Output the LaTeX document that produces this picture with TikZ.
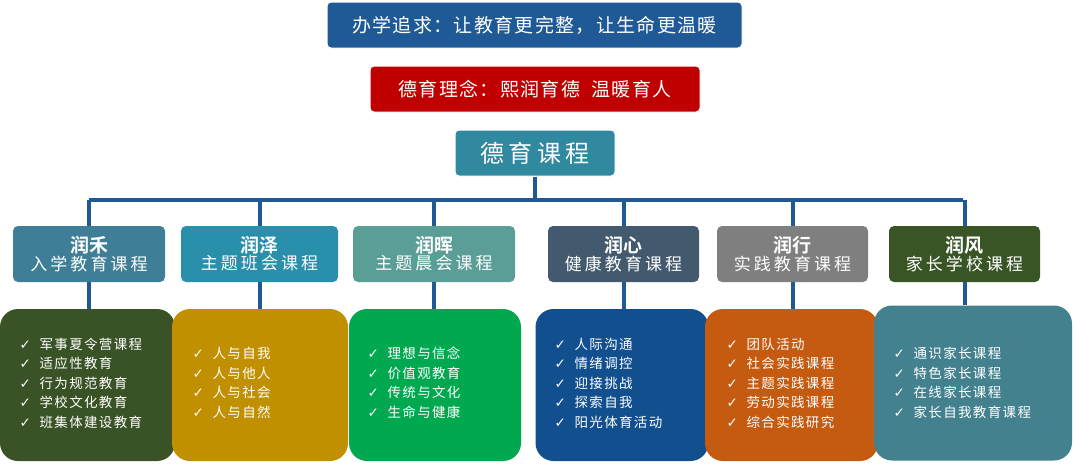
\documentclass[tikz,border=0pt]{standalone}
\usepackage{fontspec}
\setmainfont{Noto Sans CJK SC}
\newfontfamily\cjkb{Noto Sans CJK SC Bold}
\newfontfamily\cjks[LetterSpace=18]{Noto Sans CJK SC}
\newfontfamily\cjkt[LetterSpace=7]{Noto Sans CJK SC}
\newfontfamily\cjkl[LetterSpace=10]{Noto Sans CJK SC}
\newfontfamily\symf{DejaVu Sans}
\definecolor{cblue}{HTML}{1F5A96}
\definecolor{cred}{HTML}{C00000}
\definecolor{cteal}{HTML}{31899F}
\definecolor{k1}{HTML}{3E7F97}
\definecolor{k2}{HTML}{2A8FAB}
\definecolor{k3}{HTML}{5A9E97}
\definecolor{k4}{HTML}{435A6E}
\definecolor{k5}{HTML}{7F7F7F}
\definecolor{k6}{HTML}{3A5525}
\definecolor{b1}{HTML}{3A5326}
\definecolor{b2}{HTML}{C09000}
\definecolor{b3}{HTML}{00A850}
\definecolor{b4}{HTML}{124F8F}
\definecolor{b5}{HTML}{C55A11}
\definecolor{b6}{HTML}{43818F}
\newcommand{\ck}{{\symf\char"2713}\ \ }
\tikzset{
 topbox/.style={rounded corners=4pt, text=white, draw=white, line width=1pt, inner sep=0pt},
 cat/.style={rounded corners=5pt, text=white, inner sep=0pt, minimum height=56pt, align=center},
 bot/.style={rounded corners=18pt, text=white, inner sep=0pt, minimum height=152pt, align=left},
 conn/.style={cblue, line width=4pt},
}
\begin{document}
\begin{tikzpicture}[x=1pt,y=-1pt]
\useasboundingbox (0,0) rectangle (1075,463);
\node[topbox, fill=cblue, minimum width=415pt, minimum height=46pt, font=\cjkt\fontsize{19}{22}\selectfont] (t1) at (534.5,25) {办学追求：让教育更完整，让生命更温暖};
\node[topbox, fill=cred, minimum width=330pt, minimum height=46pt, font=\cjkt\fontsize{19}{22}\selectfont] (t2) at (535,89) {德育理念：熙润育德\ \ 温暖育人};
\node[topbox, fill=cteal, minimum width=160pt, minimum height=46pt, font=\cjks\fontsize{24}{26}\selectfont] (t3) at (535,153) {德育课程};
\coordinate (h1) at (89,200); \coordinate (h6) at (963,200);
\coordinate (hm) at (535,200);
\foreach \i/\x/\w/\c/\a/\b in {1/89/152/k1/润禾/入学教育课程,2/259.5/157/k2/润泽/主题班会课程,3/434/162/k3/润晖/主题晨会课程,4/623.5/151/k4/润心/健康教育课程,5/792.5/151/k5/润行/实践教育课程,6/964.5/151/k6/润风/家长学校课程}{
 \node[cat, fill=\c, minimum width=\w pt] (c\i) at (\x,254) {{\cjkb\fontsize{19}{20}\selectfont \a}\\[0pt]{\cjks\fontsize{17}{20}\selectfont \b}};
}
\node[bot, fill=b1, minimum width=175pt] (d1) at (87.5,385) {};
\node[bot, fill=b2, minimum width=176pt] (d2) at (260,385) {};
\node[bot, fill=b3, minimum width=172pt] (d3) at (435,385) {};
\node[bot, fill=b4, minimum width=173pt] (d4) at (622,385) {};
\node[bot, fill=b5, minimum width=173pt] (d5) at (791.5,385) {};
\node[bot, fill=b6, minimum width=198pt, minimum height=155pt] (d6) at (973,383) {};
\draw[conn] (t3.south) -- (hm);
\draw[conn] (h1) -- (h6);
\foreach \i in {1,...,6}{
 \draw[conn] (c\i.north |- hm) -- (c\i.north);
 \draw[conn] (c\i.south) -- (d\i.north -| c\i.south);
}
\tikzset{lst/.style={text=white, align=left, anchor=west, font=\cjkl\fontsize{13.5}{19.5}\selectfont}}
\node[lst] (l1) at (16,383) {\ck 军事夏令营课程\\\ck 适应性教育\\\ck 行为规范教育\\\ck 学校文化教育\\\ck 班集体建设教育};
\node[lst] (l2) at (189,383) {\ck 人与自我\\\ck 人与他人\\\ck 人与社会\\\ck 人与自然};
\node[lst] (l3) at (364,383) {\ck 理想与信念\\\ck 价值观教育\\\ck 传统与文化\\\ck 生命与健康};
\node[lst] (l4) at (551,383) {\ck 人际沟通\\\ck 情绪调控\\\ck 迎接挑战\\\ck 探索自我\\\ck 阳光体育活动};
\node[lst] (l5) at (723,383) {\ck 团队活动\\\ck 社会实践课程\\\ck 主题实践课程\\\ck 劳动实践课程\\\ck 综合实践研究};
\node[lst] (l6) at (890,383) {\ck 通识家长课程\\\ck 特色家长课程\\\ck 在线家长课程\\\ck 家长自我教育课程};
\end{tikzpicture}
\end{document}
